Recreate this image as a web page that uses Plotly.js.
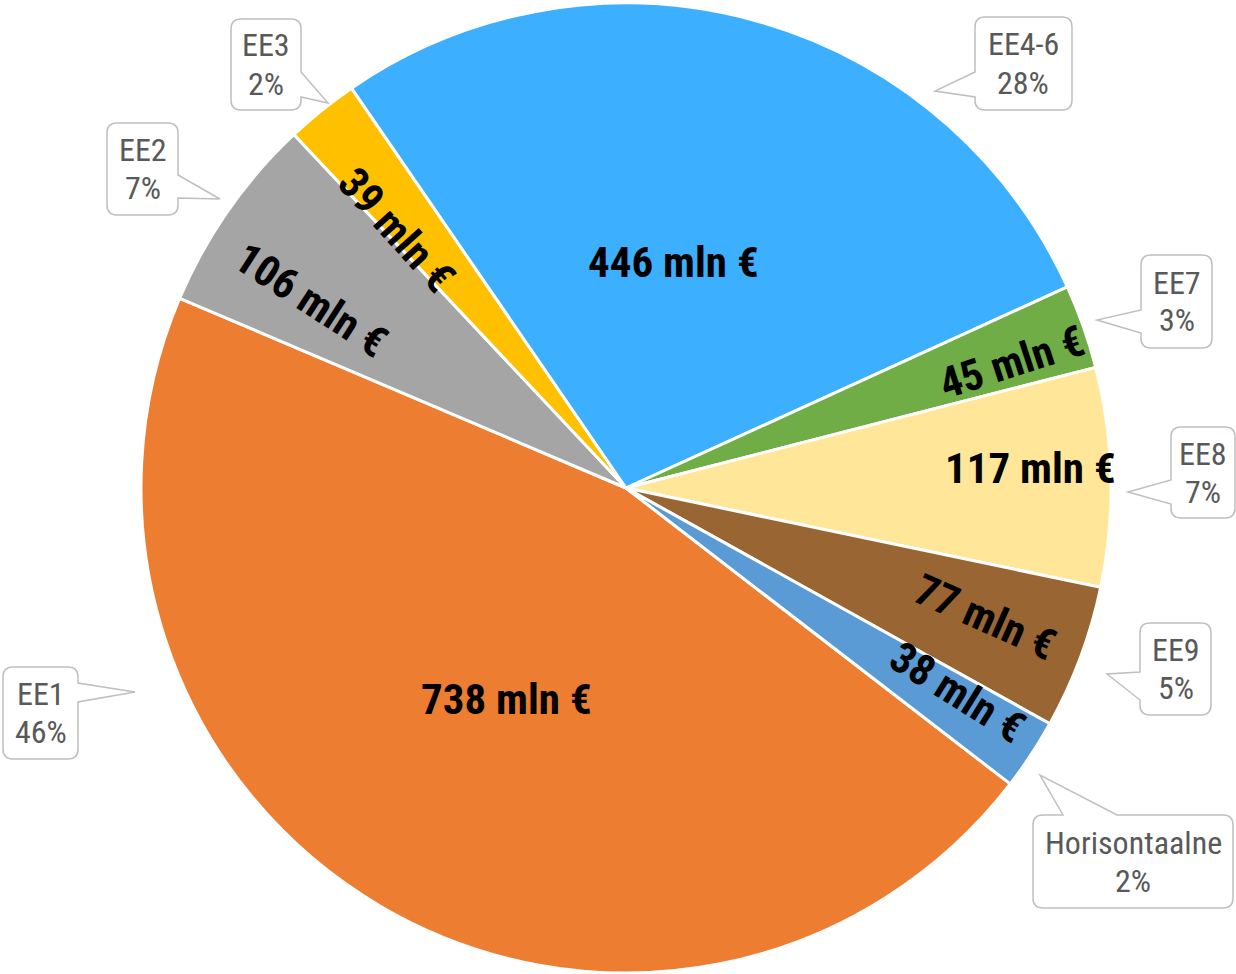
<!DOCTYPE html>
<html><head><meta charset="utf-8">
<script src="https://cdn.plot.ly/plotly-3.0.1.min.js"></script>
<style>html,body{margin:0;padding:0;background:#fff}#chart{width:1236px;height:974px}</style>
</head><body><div id="chart"></div>
<script>
// ---- data ----
const categories = ['EE1','EE2','EE3','EE4-6','EE7','EE8','EE9','Horisontaalne'];
const values = [738,106,39,446,45,117,77,38];
const valueSuffix = ' mln €';
const colors = ['#ED7D31','#A5A5A5','#FFC000','#3CAFFF','#70AD47','#FFE699','#996633','#5B9BD5'];

// ---- layout constants ----
const W = 1236, H = 974;
const M = {l:16, r:0, t:3, b:1};
const ROT = 127.6;
const FONT = "'Roboto Condensed','Liberation Sans Narrow','DejaVu Sans Condensed',Roboto,sans-serif";
// inside label placement (radius fraction, angle offset deg, text angle deg)
const inR   = [0.50, 0.755, 0.711, 0.476, 0.837, 0.834, 0.788, 0.803];
const inDA  = [-0.8, -4.0, -2.8, -3.6, 1.3, -1.5, -0.8, -1.7];
const inTA  = [0, 33, 48, 0, -18, 0, 24, 32];
// callout bubbles in px: box [x0,y0,x1,y1], side, pointer base (b0,b1), tip (tx,ty)
const bubbles = [
  {box:[3,667,78,759],     side:'right',  b:[683,702],   tip:[135,692]},
  {box:[107,123,178,215],  side:'right',  b:[175,198],   tip:[220,199]},
  {box:[231,19,301,110],   side:'right',  b:[72,97],     tip:[328,103]},
  {box:[975,17,1072,110],  side:'left',   b:[72,97],     tip:[935,91]},
  {box:[1141,255,1212,348],side:'left',   b:[310,333],   tip:[1097,320]},
  {box:[1171,427,1235,518],side:'left',   b:[480,504],   tip:[1128,492]},
  {box:[1140,623,1211,715],side:'left',   b:[672,700],   tip:[1107,674]},
  {box:[1033,815,1233,908],side:'top',    b:[1063,1117], tip:[1040,775]}
];

const pw = W - M.l - M.r, ph = H - M.t - M.b;
const X = px => (px - M.l) / pw;
const Y = py => 1 - (py - M.t) / ph;
const P = (x,y) => X(x).toFixed(5) + ',' + Y(y).toFixed(5);

function bubblePath(bb){
  const [x0,y0,x1,y1] = bb.box, rr = 10, s = bb.side, [b0,b1] = bb.b, [tx,ty] = bb.tip;
  let d = 'M' + P(x0+rr,y0);
  if (s==='top') d += ' L' + P(b0,y0) + ' L' + P(tx,ty) + ' L' + P(b1,y0);
  d += ' L' + P(x1-rr,y0) + ' Q' + P(x1,y0) + ' ' + P(x1,y0+rr);
  if (s==='right') d += ' L' + P(x1,b0) + ' L' + P(tx,ty) + ' L' + P(x1,b1);
  d += ' L' + P(x1,y1-rr) + ' Q' + P(x1,y1) + ' ' + P(x1-rr,y1);
  if (s==='bottom') d += ' L' + P(b1,y1) + ' L' + P(tx,ty) + ' L' + P(b0,y1);
  d += ' L' + P(x0+rr,y1) + ' Q' + P(x0,y1) + ' ' + P(x0,y1-rr);
  if (s==='left') d += ' L' + P(x0,b1) + ' L' + P(tx,ty) + ' L' + P(x0,b0);
  d += ' L' + P(x0,y0+rr) + ' Q' + P(x0,y0) + ' ' + P(x0+rr,y0) + ' Z';
  return d;
}

const total = values.reduce((a,b)=>a+b,0);
const cx = M.l + pw/2, cy = M.t + ph/2, R = Math.min(pw,ph)/2;

const shapes = [], annotations = [];
let cum = 0;
values.forEach((v,i)=>{
  const mid = ROT + 360*(cum + v/2)/total + inDA[i];
  cum += v;
  const a = mid*Math.PI/180, rr = inR[i]*R;
  const px = cx + rr*Math.sin(a), py = cy - rr*Math.cos(a);
  annotations.push({xref:'paper',yref:'paper',x:X(px),y:Y(py),xanchor:'center',yanchor:'middle',
    text:v+valueSuffix,showarrow:false,textangle:inTA[i],
    font:{family:FONT,size:43,color:'#000000',weight:700}});
  const bb = bubbles[i];
  shapes.push({type:'path',xref:'paper',yref:'paper',path:bubblePath(bb),
    line:{color:'#BFBFBF',width:1.5},fillcolor:'#FFFFFF',layer:'above'});
  const bx = (bb.box[0]+bb.box[2])/2, by = (bb.box[1]+bb.box[3])/2;
  const pct = Math.round(v/total*100) + '%';
  annotations.push({xref:'paper',yref:'paper',x:X(bx),y:Y(by-19),xanchor:'center',yanchor:'middle',
    text:categories[i],showarrow:false,font:{family:FONT,size:32,color:'#595959'}});
  annotations.push({xref:'paper',yref:'paper',x:X(bx),y:Y(by+19),xanchor:'center',yanchor:'middle',
    text:pct,showarrow:false,font:{family:FONT,size:32,color:'#595959'}});
});

const trace = {
  type:'pie', labels:categories, values:values, sort:false, direction:'clockwise', rotation:ROT,
  marker:{colors:colors, line:{color:'#FFFFFF', width:3}},
  textinfo:'none', hoverinfo:'label+value+percent', showlegend:false
};
const layout = {
  width:W, height:H, margin:M, showlegend:false,
  paper_bgcolor:'#FFFFFF', plot_bgcolor:'#FFFFFF',
  shapes:shapes, annotations:annotations
};
Plotly.newPlot('chart',[trace],layout,{displayModeBar:false,staticPlot:true});
</script>
</body></html>
